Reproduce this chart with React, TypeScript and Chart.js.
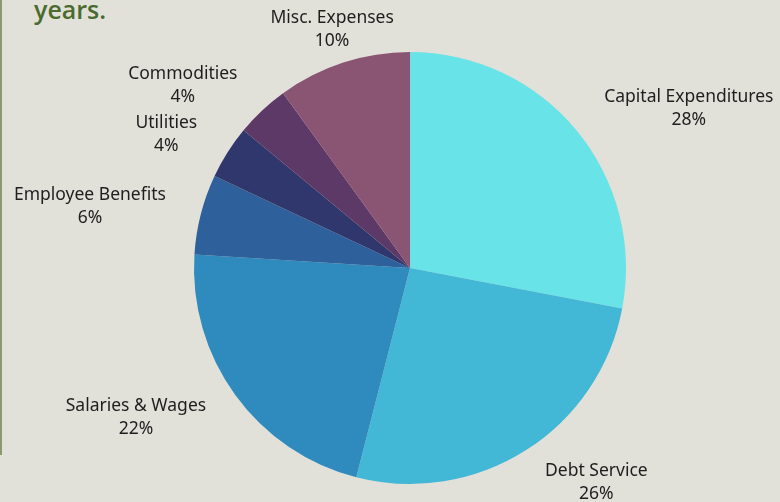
import React, { useEffect, useRef } from "react";
import { Chart, registerables } from "chart.js";

Chart.register(...registerables);

const categories = [
  "Capital Expenditures",
  "Debt Service",
  "Salaries & Wages",
  "Employee Benefits",
  "Utilities",
  "Commodities",
  "Misc. Expenses",
];
const shares = [28, 26, 22, 6, 4, 4, 10];
const sliceColors = [
  "#68e3e8",
  "#43b7d6",
  "#2f8bbd",
  "#2e619b",
  "#2f376d",
  "#5c3966",
  "#8a5573",
];

const FONT = '"Noto Sans", sans-serif';

const outsideLabels = {
  id: "outsideLabels",
  afterDatasetsDraw(chart: any) {
    const ctx = chart.ctx;
    const meta = chart.getDatasetMeta(0);
    const data = chart.data.datasets[0].data as number[];
    const total = data.reduce((a, b) => a + b, 0);
    ctx.save();
    ctx.font = `17.5px ${FONT}`;
    ctx.fillStyle = "#1e1e1e";
    ctx.textBaseline = "middle";
    ctx.textAlign = "center";
    meta.data.forEach((arc: any, i: number) => {
      const { x, y, startAngle, endAngle, outerRadius } = arc.getProps(
        ["x", "y", "startAngle", "endAngle", "outerRadius"],
        true
      );
      const mid = (startAngle + endAngle) / 2;
      const r = outerRadius + 36;
      const px = x + Math.cos(mid) * r;
      const py = y + Math.sin(mid) * r + 1.5;
      const l1 = String(chart.data.labels[i]);
      const l2 = Math.round((data[i] / total) * 100) + "%";
      const w = Math.max(ctx.measureText(l1).width, ctx.measureText(l2).width);
      const c = Math.cos(mid);
      let cx = px;
      if (c > 0.4) cx = px + w / 2;
      else if (c < -0.4) cx = px - w / 2;
      ctx.fillText(l1, cx, py - 11.5);
      ctx.fillText(l2, cx, py + 11.5);
    });
    ctx.restore();
  },
};

export default function App() {
  const ref = useRef<HTMLCanvasElement | null>(null);
  useEffect(() => {
    if (!ref.current) return;
    const chart = new Chart(ref.current, {
      type: "pie",
      data: {
        labels: categories,
        datasets: [
          {
            data: shares,
            backgroundColor: sliceColors,
            borderWidth: 0,
          },
        ],
      },
      options: {
        responsive: false,
        animation: false,
        layout: { padding: { top: 52, bottom: 18, left: 194, right: 154 } },
        plugins: {
          legend: { display: false },
          tooltip: { enabled: false },
        },
      },
      plugins: [outsideLabels],
    });
    return () => chart.destroy();
  }, []);

  return (
    <div
      style={{
        position: "fixed",
        left: 0,
        top: 0,
        width: 780,
        height: 502,
        background: "#e1e0d9",
        overflow: "hidden",
      }}
    >
      <div
        style={{
          position: "absolute",
          left: 0,
          top: 0,
          width: 2,
          height: 455,
          background: "#8a9a70",
        }}
      />
      <div
        style={{
          position: "absolute",
          left: 34,
          top: -11,
          fontFamily: '"Open Sans", sans-serif',
          fontWeight: 600,
          fontSize: 25,
          color: "#4a6a2e",
          lineHeight: "40px",
        }}
      >
        years.
      </div>
      <canvas
        ref={ref}
        width={780}
        height={502}
        style={{ position: "absolute", left: 0, top: 0 }}
      />
    </div>
  );
}
